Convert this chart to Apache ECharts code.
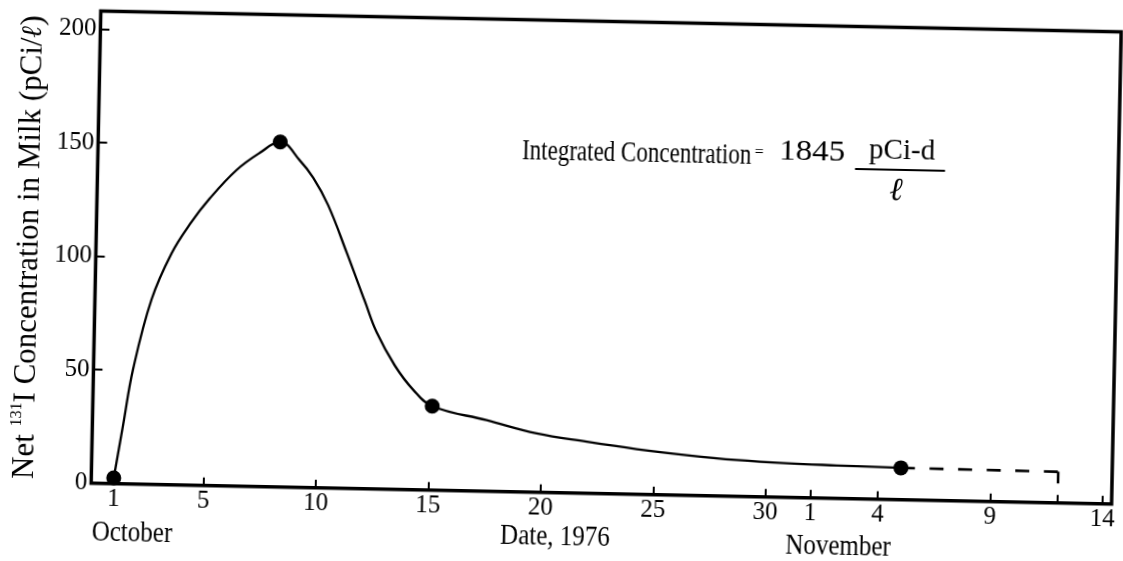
<!DOCTYPE html>
<html>
<head>
<meta charset="utf-8">
<script src="https://cdn.jsdelivr.net/npm/echarts@6/dist/echarts.min.js"></script>
<style>
html, body { margin: 0; padding: 0; background: #fff; overflow: hidden; }
#chart { width: 1123px; height: 561px; background: #fff; transform: rotate(1.17deg); transform-origin: 50% 50%; }
</style>
</head>
<body>
<div id="chart"></div>
<script>
// Day numbering: 1 = 1 October 1976, 32 = 1 November, 45 = 14 November
const tickDays = [1, 5, 10, 15, 20, 25, 30, 32, 35, 40, 43, 45];
const tickLabels = ['1', '5', '10', '15', '20', '25', '30', '1', '4', '9', '', '14'];
const yTicks = [0, 50, 100, 150, 200];

// measured points (dots)
const pointDays = [1, 8.1, 15.1, 36];
const pointValues = [2.5, 152, 37, 14];

// hand-drawn smooth curve
const curveDays = [1, 1.37, 1.76, 2.52, 3.37, 4.16, 5.02, 6.18, 7.2, 8.1, 8.99, 9.6, 10.29, 11.15, 12.01, 12.56, 13.4, 14.24, 15.1, 17.53, 19.77, 22.0, 24.23, 26.46, 28.69, 30.91, 33.14, 36];
const curveValues = [2.5, 26, 50.5, 81.5, 102, 115, 126.5, 139.2, 147, 152, 144, 136.5, 124.5, 104, 82.5, 69, 54.5, 44, 37, 31.3, 25.9, 22.7, 19.9, 17.7, 16.0, 15.0, 14.5, 14];

// dashed extrapolation, then short drop
const extDays = [36, 43];
const extValues = [14, 13.7];
const dropDays = [43, 43];
const dropValues = [13.7, 8.6];

const FONT = '"Liberation Serif", "DejaVu Serif", serif';
const zip = (a, b) => a.map((v, i) => [v, b[i]]);

const chart = echarts.init(document.getElementById('chart'), null, { renderer: 'canvas' });

const option = {
  animation: false,
  backgroundColor: '#fff',
  grid: {
    left: 95.4, right: 7, top: 20.6, bottom: 68.3,
    show: true, borderColor: '#000', borderWidth: 3.5, backgroundColor: 'transparent',
    containLabel: false, outerBoundsMode: 'none'
  },
  xAxis: {
    type: 'value', min: 0, max: 45.4,
    axisLine: { show: false },
    splitLine: { show: false },
    axisTick: { show: true, inside: true, length: 8, lineStyle: { color: '#000', width: 2 }, customValues: tickDays },
    axisLabel: {
      customValues: tickDays.filter((d, i) => tickLabels[i] !== ''),
      formatter: v => { const i = tickDays.indexOf(v); return i >= 0 ? tickLabels[i] : ''; },
      fontFamily: FONT, fontSize: 25, color: '#000', margin: 3
    }
  },
  yAxis: {
    type: 'value', min: 0, max: 208,
    axisLine: { show: false },
    splitLine: { show: false },
    axisTick: { show: true, inside: true, length: 9, lineStyle: { color: '#000', width: 2 }, customValues: yTicks },
    axisLabel: { customValues: yTicks, fontFamily: FONT, fontSize: 25, color: '#000', margin: 4 }
  },
  series: [
    {
      type: 'line', data: zip(curveDays, curveValues), smooth: 0.4, showSymbol: false,
      lineStyle: { color: '#000', width: 2.3 }, z: 2
    },
    {
      type: 'line', data: zip(extDays, extValues), smooth: false, showSymbol: false,
      lineStyle: { color: '#000', width: 2.6, type: [14, 14.6] }, z: 2
    },
    {
      type: 'line', data: zip(dropDays, dropValues), smooth: false, showSymbol: false,
      lineStyle: { color: '#000', width: 2.6 }, z: 2
    },
    {
      type: 'scatter', data: zip(pointDays, pointValues), symbol: 'circle', symbolSize: 15,
      itemStyle: { color: '#000', opacity: 1 }, z: 3
    }
  ],
  graphic: [
    {
      type: 'text', x: 28.5, y: 258, rotation: Math.PI / 2,
      style: {
        text: '{n|Net }{s|131}{n|I Concentration in Milk (pCi/}{l|ℓ}{n|)}',
        rich: {
          n: { fontFamily: FONT, fontSize: 31, lineHeight: 34, fill: '#000' },
          s: { fontFamily: FONT, fontSize: 16, lineHeight: 18, verticalAlign: 'top', fill: '#000' },
          l: { fontFamily: '"DejaVu Serif", serif', fontWeight: 'bold', fontStyle: 'italic', fontSize: 28, lineHeight: 34, fill: '#000' }
        },
        textAlign: 'center', textVerticalAlign: 'middle', fill: '#000'
      }
    },
    {
      type: 'text', x: 519.4, y: 152.3, scaleY: 1.3,
      style: { text: 'Integrated Concentration', font: '23px ' + FONT, textAlign: 'left', textVerticalAlign: 'middle', fill: '#000' }
    },
    {
      type: 'text', x: 756.5, y: 148.5,
      style: { text: '=', font: '16px ' + FONT, textAlign: 'center', textVerticalAlign: 'middle', fill: '#000' }
    },
    {
      type: 'text', x: 809.4, y: 147.5, scaleY: 0.9,
      style: { text: '1845', font: '33px ' + FONT, textAlign: 'center', textVerticalAlign: 'middle', fill: '#000' }
    },
    {
      type: 'text', x: 899.4, y: 144.1, scaleY: 1.05,
      style: { text: 'pCi-d', font: '29px ' + FONT, textAlign: 'center', textVerticalAlign: 'middle', fill: '#000' }
    },
    {
      type: 'line', shape: { x1: 852.7, y1: 163.1, x2: 942.7, y2: 163.1 },
      style: { stroke: '#000', lineWidth: 2 }
    },
    {
      type: 'text', x: 894.9, y: 185,
      style: { text: 'ℓ', font: 'italic bold 32px "DejaVu Serif", serif', textAlign: 'center', textVerticalAlign: 'middle', fill: '#000' }
    },
    {
      type: 'text', x: 137.2, y: 541.8, scaleY: 1.2,
      style: { text: 'October', font: '25px ' + FONT, textAlign: 'center', textVerticalAlign: 'middle', fill: '#000' }
    },
    {
      type: 'text', x: 560.2, y: 537.1, scaleY: 1.2,
      style: { text: 'Date, 1976', font: '25px ' + FONT, textAlign: 'center', textVerticalAlign: 'middle', fill: '#000' }
    },
    {
      type: 'text', x: 843.4, y: 541.4, scaleY: 1.2,
      style: { text: 'November', font: '25px ' + FONT, textAlign: 'center', textVerticalAlign: 'middle', fill: '#000' }
    }
  ]
};

chart.setOption(option);
</script>
</body>
</html>
